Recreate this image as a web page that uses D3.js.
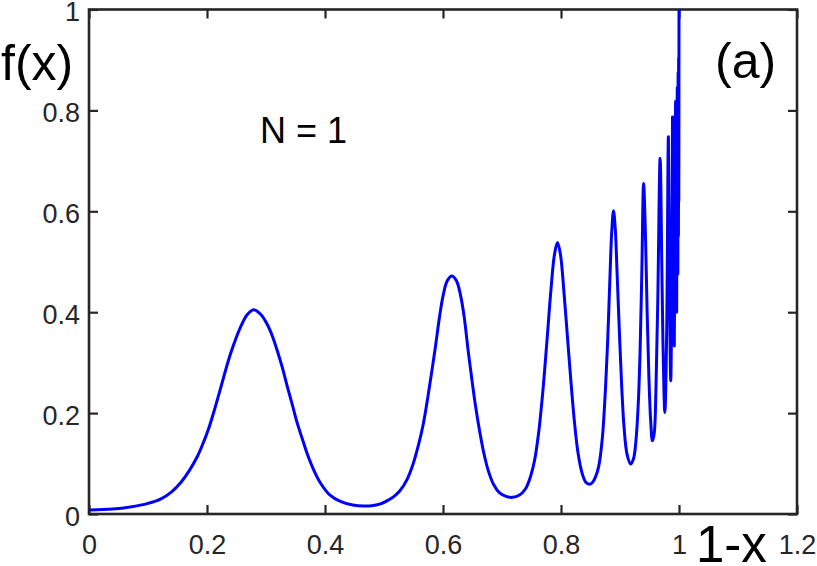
<!DOCTYPE html>
<html>
<head>
<meta charset="utf-8">
<script src="https://cdn.jsdelivr.net/npm/d3@7"></script>
<style>
  html, body { margin: 0; padding: 0; background: #fff; }
  svg { display: block; }
  text { font-family: "Liberation Sans", Arial, Helvetica, sans-serif; }
</style>
</head>
<body>
<svg id="chart" width="817" height="566"></svg>
<script>
// ---- data ----
const oneMinusX = [
  0.000, 0.040, 0.070, 0.100, 0.122, 0.140, 0.156, 0.170, 0.184, 0.194,
  0.203, 0.213, 0.223, 0.232, 0.240, 0.249, 0.257, 0.268, 0.279, 0.291,
  0.302, 0.311, 0.319, 0.328, 0.336, 0.345, 0.353, 0.362, 0.370, 0.381,
  0.392, 0.408, 0.426, 0.447, 0.466, 0.482, 0.494, 0.505, 0.516, 0.527,
  0.539, 0.549, 0.558, 0.566, 0.573, 0.580, 0.587, 0.594, 0.600, 0.607,
  0.615, 0.623, 0.630, 0.636, 0.642, 0.648, 0.655, 0.662, 0.669, 0.677,
  0.686, 0.696, 0.707, 0.718, 0.729, 0.740, 0.748, 0.755, 0.762, 0.769,
  0.776, 0.783, 0.789, 0.794, 0.799, 0.805, 0.811, 0.817, 0.823, 0.829,
  0.836, 0.842, 0.848, 0.853, 0.858, 0.864, 0.870, 0.875, 0.879, 0.883,
  0.886, 0.889, 0.892, 0.895, 0.899, 0.903, 0.907, 0.912, 0.918, 0.923,
  0.927, 0.931, 0.934, 0.937, 0.940, 0.943, 0.946, 0.949, 0.952, 0.955,
  0.958, 0.961, 0.964, 0.968, 0.971, 0.973, 0.976, 0.979, 0.982, 0.984,
  0.986, 0.988, 0.989, 0.9905, 0.992, 0.993, 0.9943, 0.995, 0.996, 0.9965,
  0.9971, 0.9976, 0.998, 0.9985, 0.999, 0.9994, 0.9997, 1.000
];
const fValues = [
  0.008, 0.010, 0.014, 0.021, 0.030, 0.044, 0.063, 0.086, 0.115, 0.142,
  0.170, 0.208, 0.249, 0.287, 0.318, 0.348, 0.371, 0.395, 0.405, 0.396,
  0.376, 0.352, 0.324, 0.289, 0.253, 0.215, 0.180, 0.147, 0.119, 0.087,
  0.062, 0.038, 0.025, 0.018, 0.016, 0.017, 0.020, 0.026, 0.034, 0.046,
  0.068, 0.098, 0.135, 0.175, 0.222, 0.275, 0.330, 0.390, 0.432, 0.462,
  0.472, 0.462, 0.432, 0.390, 0.330, 0.275, 0.215, 0.165, 0.122, 0.085,
  0.058, 0.042, 0.035, 0.033, 0.037, 0.050, 0.073, 0.105, 0.160, 0.240,
  0.340, 0.445, 0.515, 0.538, 0.515, 0.440, 0.350, 0.260, 0.180, 0.120,
  0.080, 0.063, 0.059, 0.062, 0.072, 0.095, 0.150, 0.240, 0.340, 0.470,
  0.560, 0.601, 0.565, 0.480, 0.360, 0.250, 0.170, 0.118, 0.099, 0.110,
  0.145, 0.220, 0.320, 0.480, 0.655, 0.560, 0.400, 0.270, 0.185, 0.145,
  0.160, 0.250, 0.420, 0.705, 0.480, 0.330, 0.201, 0.350, 0.748, 0.450,
  0.264, 0.500, 0.787, 0.520, 0.333, 0.560, 0.818, 0.580, 0.400, 0.600,
  0.846, 0.650, 0.475, 0.876, 0.550, 0.905, 0.620, 1.000
];
const xTicks = [0, 0.2, 0.4, 0.6, 0.8, 1, 1.2];
const yTicks = [0, 0.2, 0.4, 0.6, 0.8, 1];
const xTickLabels = ["0", "0.2", "0.4", "0.6", "0.8", "1", "1.2"];
const yTickLabels = ["0", "0.2", "0.4", "0.6", "0.8", "1"];

// ---- layout ----
const L = 89, R = 797, T = 9.5, B = 514;
const axisColor = "#262626";
const svg = d3.select("#chart");

const x = d3.scaleLinear().domain([0, 1.2]).range([L, R]);
const y = d3.scaleLinear().domain([0, 1]).range([B, T]);

const tickLen = 9;
const fontTick = 27;

function styleAxis(g) {
  g.select(".domain").remove();
  g.selectAll(".tick line").attr("stroke", axisColor).attr("stroke-width", 2.2);
  g.selectAll(".tick text").attr("fill", axisColor).style("font-size", fontTick + "px");
}

// bottom axis
svg.append("g").attr("transform", `translate(0,${B})`)
  .call(d3.axisBottom(x).tickValues(xTicks).tickSize(-tickLen).tickPadding(21)
    .tickFormat((d, i) => xTickLabels[i]))
  .call(styleAxis);
// top axis
svg.append("g").attr("transform", `translate(0,${T})`)
  .call(d3.axisTop(x).tickValues(xTicks).tickSize(-tickLen).tickFormat(""))
  .call(styleAxis);
// left axis
svg.append("g").attr("transform", `translate(${L},0)`)
  .call(d3.axisLeft(y).tickValues(yTicks).tickSize(-tickLen).tickPadding(9)
    .tickFormat((d, i) => yTickLabels[i]))
  .call(styleAxis)
  .call(g => g.selectAll(".tick text").attr("dy", "0.42em"));
// right axis
svg.append("g").attr("transform", `translate(${R},0)`)
  .call(d3.axisRight(y).tickValues(yTicks).tickSize(-tickLen).tickFormat(""))
  .call(styleAxis);

// frame
svg.append("rect")
  .attr("x", L).attr("y", T).attr("width", R - L).attr("height", B - T)
  .attr("fill", "none").attr("stroke", axisColor).attr("stroke-width", 2.6);

// curve
const pts = oneMinusX.map((v, i) => [v, fValues[i]]);
const line = d3.line().x(d => x(d[0])).y(d => y(d[1])).curve(d3.curveCatmullRom.alpha(0.5));
svg.append("path").datum(pts)
  .attr("d", line)
  .attr("fill", "none")
  .attr("stroke", "#0000ff")
  .attr("stroke-width", 3)
  .attr("stroke-linejoin", "round");

// labels
svg.append("text").attr("x", 1).attr("y", 79.5)
  .style("font-size", "50px").attr("fill", "#000").text("f(x)");
svg.append("text").attr("x", 715).attr("y", 77.5)
  .style("font-size", "50px").attr("fill", "#000").text("(a)");
svg.append("text").attr("x", 696).attr("y", 562)
  .style("font-size", "51px").attr("fill", "#000").text("1-x");
svg.append("text").attr("x", 260).attr("y", 143)
  .style("font-size", "36px").attr("fill", "#000").text("N = 1");
</script>
</body>
</html>
